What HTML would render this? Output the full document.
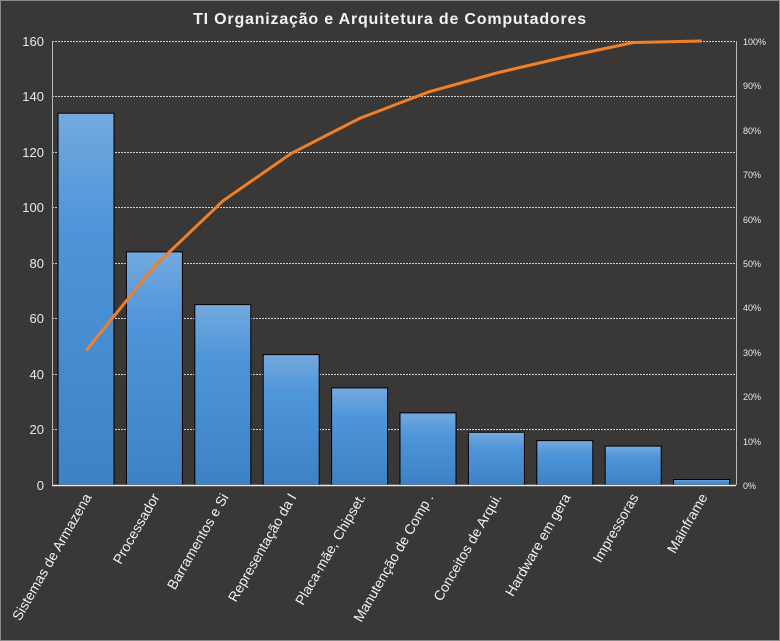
<!DOCTYPE html><html><head><meta charset="utf-8"><style>body{margin:0;background:#3a3836}svg{display:block}</style></head><body>
<svg width="780" height="641" viewBox="0 0 780 641" xmlns="http://www.w3.org/2000/svg" font-family="Liberation Sans, DejaVu Sans, sans-serif">
<defs><linearGradient id="g" x1="0" y1="0" x2="0" y2="1"><stop offset="0" stop-color="#74a9de"/><stop offset="0.3" stop-color="#4f95da"/><stop offset="1" stop-color="#3c82c4"/></linearGradient></defs>
<rect x="0.5" y="0.5" width="779" height="640" fill="#3a3836" stroke="#8a8a8a"/>
<text x="390" y="24" text-anchor="middle" fill="#f2f2f2" font-size="16" font-weight="bold" letter-spacing="0.8">TI Organização  e Arquitetura  de Computadores</text>
<g stroke="#cfcfcf" stroke-width="1" stroke-dasharray="2,1">
<line x1="52" x2="736" y1="41.5" y2="41.5"/><line x1="52" x2="736" y1="96.5" y2="96.5"/><line x1="52" x2="736" y1="152.5" y2="152.5"/><line x1="52" x2="736" y1="207.5" y2="207.5"/><line x1="52" x2="736" y1="263.5" y2="263.5"/><line x1="52" x2="736" y1="318.5" y2="318.5"/><line x1="52" x2="736" y1="374.5" y2="374.5"/><line x1="52" x2="736" y1="429.5" y2="429.5"/>
</g>
<line x1="52.5" y1="41" x2="52.5" y2="485" stroke="#bbb"/>
<line x1="736.5" y1="41" x2="736.5" y2="485" stroke="#bbb"/>
<g fill="url(#g)" stroke="#000" stroke-width="1">
<rect x="58" y="113.2" width="56" height="371.8"/>
<rect x="126.4" y="251.9" width="56" height="233.1"/>
<rect x="194.8" y="304.6" width="56" height="180.4"/>
<rect x="263.2" y="354.6" width="56" height="130.4"/>
<rect x="331.6" y="387.9" width="56" height="97.1"/>
<rect x="400" y="412.9" width="56" height="72.1"/>
<rect x="468.4" y="432.3" width="56" height="52.7"/>
<rect x="536.8" y="440.6" width="56" height="44.4"/>
<rect x="605.2" y="446.1" width="56" height="38.9"/>
<rect x="673.6" y="479.5" width="56" height="5.5"/>
</g>
<line x1="52" y1="485.5" x2="736" y2="485.5" stroke="#e8e8e8" stroke-width="1.5"/>
<polyline fill="none" stroke="#f07f2a" stroke-width="3" stroke-linejoin="round" points="86.2,350.5 154.6,266.1 223,200.8 291.4,153.3 359.8,118.3 428.2,92.1 496.6,73 565,57 633.4,42.5 701.8,41"/>
<g fill="#e8e8e8" font-size="13" text-anchor="end">
<text x="44" y="46">160</text><text x="44" y="101">140</text><text x="44" y="157">120</text><text x="44" y="212">100</text><text x="44" y="268">80</text><text x="44" y="323">60</text><text x="44" y="379">40</text><text x="44" y="434">20</text><text x="44" y="490">0</text>
</g>
<g fill="#e8e8e8" font-size="9">
<text x="743" y="45">100%</text><text x="743" y="89">90%</text><text x="743" y="134">80%</text><text x="743" y="178">70%</text><text x="743" y="223">60%</text><text x="743" y="267">50%</text><text x="743" y="311">40%</text><text x="743" y="356">30%</text><text x="743" y="400">20%</text><text x="743" y="445">10%</text><text x="743" y="489">0%</text>
</g>
<g fill="#f0f0f0" font-size="14" text-anchor="end">
<text transform="translate(92,497) rotate(-60)">Sistemas de Armazena</text>
<text transform="translate(160,497) rotate(-60)">Processador</text>
<text transform="translate(229,497) rotate(-60)">Barramentos  e Si</text>
<text transform="translate(297,497) rotate(-60)">Representação da I</text>
<text transform="translate(366,497) rotate(-60)">Placa-mãe, Chipset.</text>
<text transform="translate(434,497) rotate(-60)">Manutenção de Comp .</text>
<text transform="translate(502,497) rotate(-60)">Conceitos de Arqui.</text>
<text transform="translate(571,497) rotate(-60)">Hardware em gera</text>
<text transform="translate(639,497) rotate(-60)">Impressoras</text>
<text transform="translate(708,497) rotate(-60)">Mainframe</text>
</g>
</svg>
</body></html>
